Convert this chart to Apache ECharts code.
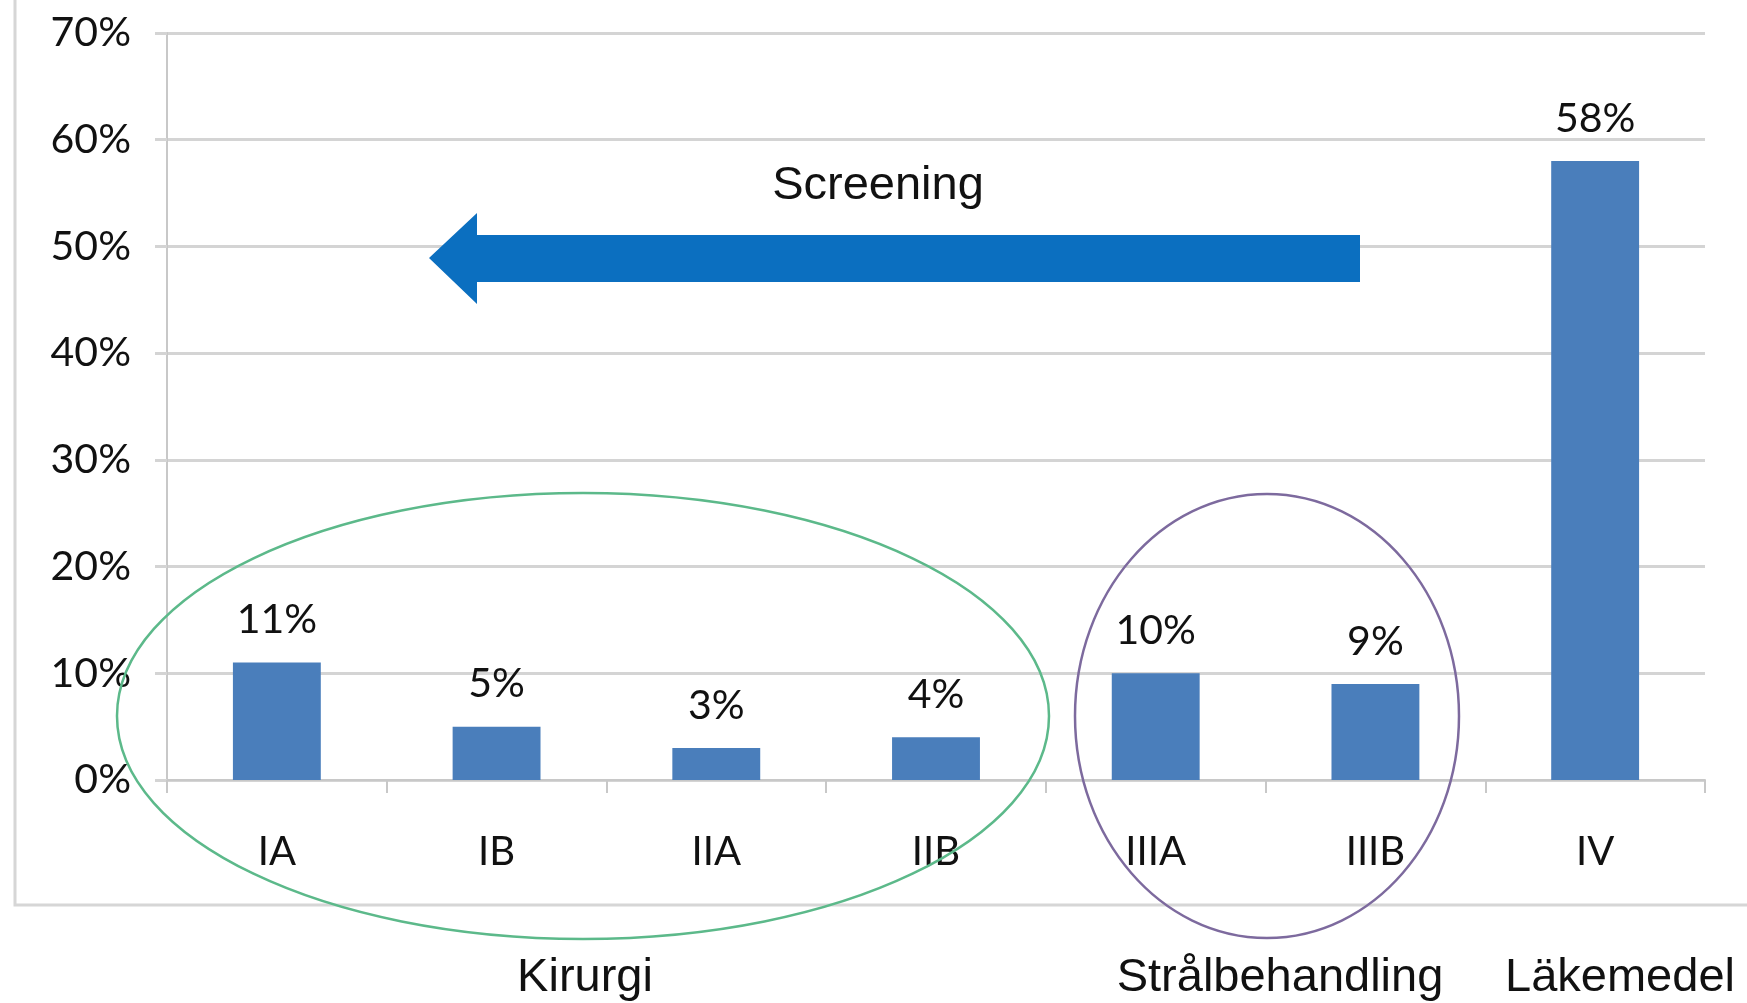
<!DOCTYPE html>
<html><head><meta charset="utf-8">
<script src="https://cdn.jsdelivr.net/npm/echarts@6/dist/echarts.min.js"></script>
<style>html,body{margin:0;padding:0;background:#fff}#c{width:1747px;height:1003px}</style>
</head><body><div id="c"></div>
<script>
const categories = ['IA','IB','IIA','IIB','IIIA','IIIB','IV'];
const values = [11, 5, 3, 4, 10, 9, 58];
const yTicks = [0, 10, 20, 30, 40, 50, 60, 70];
const groupLabels = ['Kirurgi', 'Strålbehandling', 'Läkemedel'];
const arrowLabel = 'Screening';

const chart = echarts.init(document.getElementById('c'), null, {renderer:'canvas'});
const gray = '#d4d4d4';
const gfont = '47px "Liberation Sans", Arial, sans-serif';
const option = {
  backgroundColor: '#ffffff',
  animation: false,
  grid: {left: 167, right: 42, top: 33, bottom: 223},
  xAxis: {
    type: 'category', data: categories,
    axisLine: {lineStyle: {color: '#c8c8c8', width: 2}},
    axisTick: {show: true, length: 13, lineStyle: {color: '#c8c8c8', width: 2}},
    axisLabel: {margin: 52, fontFamily: 'Lato', fontSize: 40, color: '#111'}
  },
  yAxis: {
    type: 'value', min: yTicks[0], max: yTicks[yTicks.length-1], interval: 10,
    axisLine: {show: true, lineStyle: {color: '#c8c8c8', width: 2}},
    axisTick: {show: true, length: 12, lineStyle: {color: gray, width: 3}},
    splitLine: {lineStyle: {color: gray, width: 3}},
    axisLabel: {margin: 36, fontFamily: 'Lato', fontSize: 41, color: '#111', formatter: '{value}%'}
  },
  series: [{
    type: 'bar', data: values, barWidth: '40%',
    itemStyle: {color: '#4a7ebb'},
    label: {show: true, position: 'top', distance: 22, fontFamily: 'Lato', fontSize: 41, color: '#111', formatter: '{c}%'}
  }],
  graphic: [
    {type: 'polyline', shape: {points: [[15,0],[15,905],[1747,905]]}, style: {stroke: '#d6d6d6', lineWidth: 3, fill: null}, z: 1},
    {type: 'polygon', shape: {points: [[429,258],[477,213],[477,235],[1360,235],[1360,282],[477,282],[477,304]]},
     style: {fill: '#0b6fc0'}, z: 10},
    {type: 'text', x: 878, y: 186, style: {text: arrowLabel, font: gfont, fill: '#111', align: 'center', verticalAlign: 'middle'}, z: 10},
    {type: 'ellipse', shape: {cx: 583, cy: 716, rx: 466, ry: 223}, style: {stroke: '#5cb98a', lineWidth: 2.5, fill: null}, z: 10},
    {type: 'ellipse', shape: {cx: 1267, cy: 716, rx: 192, ry: 222}, style: {stroke: '#7d6a9e', lineWidth: 2.5, fill: null}, z: 10},
    {type: 'text', x: 585, y: 978, style: {text: groupLabels[0], font: gfont, fill: '#111', align: 'center', verticalAlign: 'middle'}, z: 10},
    {type: 'text', x: 1280, y: 978, style: {text: groupLabels[1], font: gfont, fill: '#111', align: 'center', verticalAlign: 'middle'}, z: 10},
    {type: 'text', x: 1620, y: 978, style: {text: groupLabels[2], font: gfont, fill: '#111', align: 'center', verticalAlign: 'middle'}, z: 10}
  ]
};
chart.setOption(option);
</script></body></html>
